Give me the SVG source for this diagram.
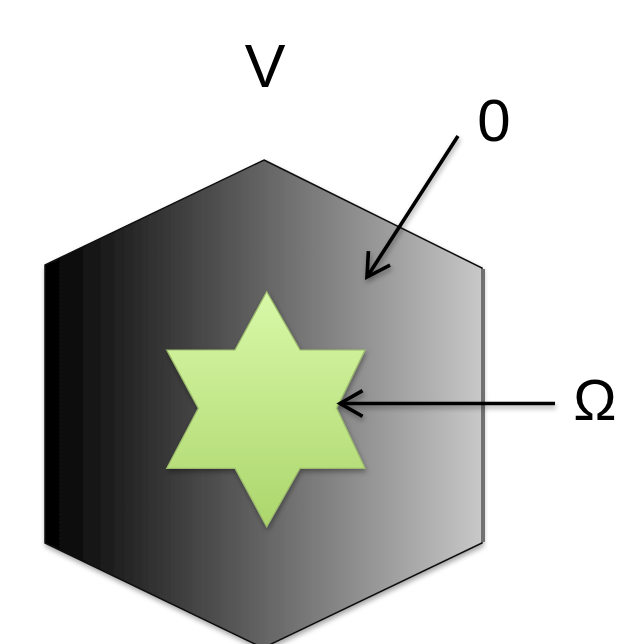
<svg xmlns="http://www.w3.org/2000/svg" width="620" height="644" viewBox="0 0 620 644">
<defs>
<linearGradient id="hexGrad" gradientUnits="userSpaceOnUse" x1="45" y1="0" x2="482" y2="0">
<stop offset="0" stop-color="#000000"/>
<stop offset="1" stop-color="#c8c8c8"/>
</linearGradient>
<linearGradient id="starGrad" gradientUnits="userSpaceOnUse" x1="0" y1="292" x2="0" y2="527">
<stop offset="0" stop-color="#d8f8a8"/>
<stop offset="1" stop-color="#acd66c"/>
</linearGradient>
<filter id="shadow" x="-10%" y="-10%" width="130%" height="130%">
<feDropShadow dx="1" dy="3" stdDeviation="2.5" flood-color="#000" flood-opacity="0.35"/>
</filter>
<marker id="openArrow" markerUnits="userSpaceOnUse" markerWidth="30" markerHeight="30" viewBox="-26 -15 30 30" refX="0" refY="0" orient="auto">
<path d="M-21,-12 L0,0 L-21,12" fill="none" stroke="#000" stroke-width="3.6" stroke-linecap="square" stroke-linejoin="miter"/>
</marker>
<style>
.label{font-family:"Liberation Sans",Arial,sans-serif;fill:#000;text-anchor:middle}
.conn{stroke:#000;stroke-width:3.6;fill:none}
</style>
</defs>
<rect width="620" height="644" fill="#ffffff"/>
<g id="node-V">
<path d="M264,160 L482,268 L482,543 L263,648 L45,543 L45,265 Z" fill="url(#hexGrad)" stroke="#111" stroke-width="1.5" filter="url(#shadow)"/>
<line x1="483" y1="269" x2="483" y2="542" stroke="#707070" stroke-width="4"/>
</g>
<g id="node-Omega-star">
<path d="M266.7,291.7 L300,350 L365,350 L336.7,408.3 L365,468.3 L300,468.3 L266.7,526.7 L235,468.3 L166.7,468.3 L198.3,408.3 L166.7,350 L235,350 Z" fill="url(#starGrad)" stroke="#9cbc6c" stroke-width="1.2" filter="url(#shadow)"/>
</g>
<g id="connectors" filter="url(#shadow)">
<line class="conn" x1="458" y1="136" x2="367" y2="277" marker-end="url(#openArrow)"/>
<line class="conn" x1="555" y1="403.5" x2="340" y2="403.5" marker-end="url(#openArrow)"/>
</g>
<g id="labels">
<text class="label" x="265" y="87" font-size="61">V</text>
<text class="label" x="494" y="141" font-size="60">0</text>
<text class="label" x="595" y="420" font-size="58">Ω</text>
</g>
</svg>
